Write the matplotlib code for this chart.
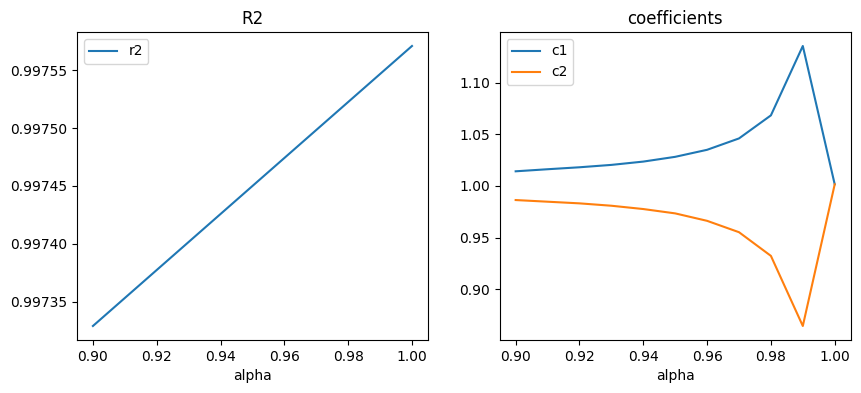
import numpy as np
import matplotlib.pyplot as plt

# valores
alpha = [0.90, 0.91, 0.92, 0.93, 0.94, 0.95, 0.96, 0.97, 0.98, 0.99, 1.00]
r2 = [0.9973290, 0.9973532, 0.9973774, 0.9974016, 0.9974258, 0.9974500,
      0.9974742, 0.9974984, 0.9975226, 0.9975468, 0.9975710]
c1 = [1.0142, 1.0162, 1.0181, 1.0204, 1.0236, 1.0282, 1.0350, 1.0460, 1.0683, 1.1354, 1.0016]
c2 = [0.9864, 0.9848, 0.9832, 0.9809, 0.9777, 0.9735, 0.9663, 0.9553, 0.9324, 0.8646, 1.0016]

fig, (ax1, ax2) = plt.subplots(1, 2, figsize=(8.61, 3.93))
fig.subplots_adjust(left=0.0894, right=0.988, top=0.9186, bottom=0.1349, wspace=0.2045)

ax1.plot(alpha, r2, label="r2")
ax1.set_title("R2")
ax1.set_xlabel("alpha")
ax1.ticklabel_format(useOffset=False)
ax1.legend(loc="upper left")

ax2.plot(alpha, c1, label="c1")
ax2.plot(alpha, c2, label="c2")
ax2.set_title("coefficients")
ax2.set_xlabel("alpha")
ax2.legend(loc="upper left")

plt.savefig("out.png", dpi=100)
